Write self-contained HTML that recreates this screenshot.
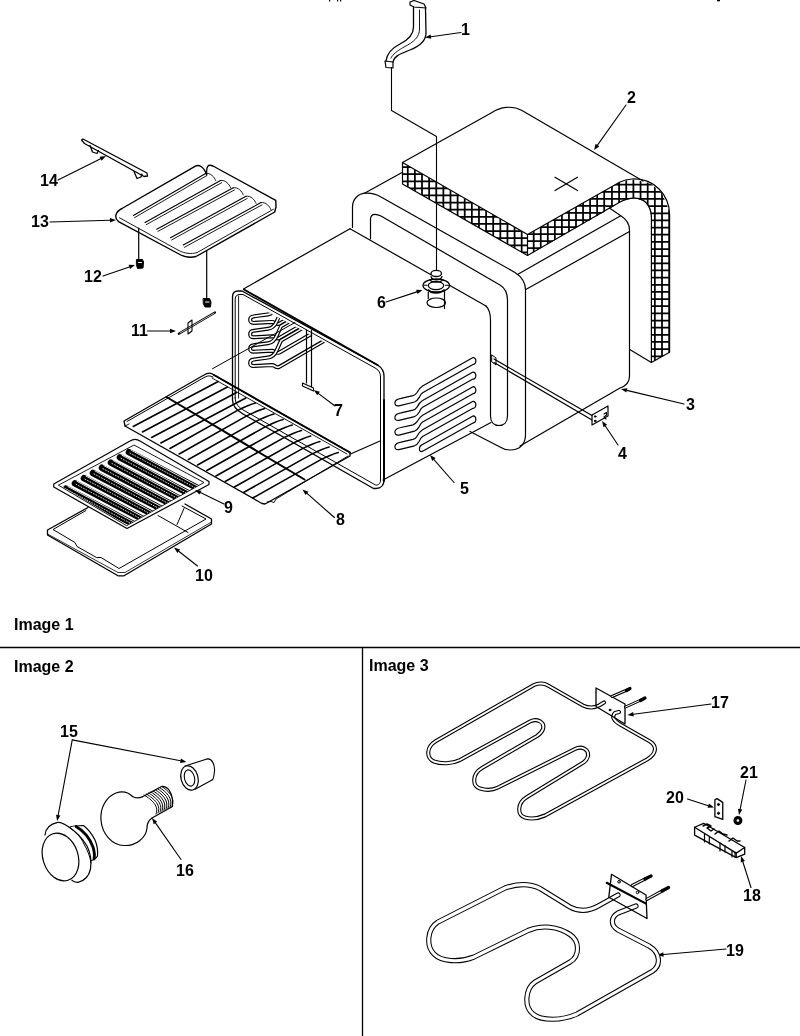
<!DOCTYPE html><html><head><meta charset="utf-8"><style>
html,body{margin:0;padding:0;background:#fff;}
body{width:800px;height:1036px;overflow:hidden;position:relative;}
svg{position:absolute;left:0;top:0;will-change:transform;}
text{font-family:"Liberation Sans",sans-serif;font-weight:bold;font-size:16px;fill:#000;}
</style></head><body>
<svg width="800" height="1036" viewBox="0 0 800 1036">
<g stroke="#000" fill="none" stroke-linecap="round" stroke-linejoin="round">

<line x1="0" y1="647.5" x2="800" y2="647.5" stroke-width="1.3"/>
<line x1="362.5" y1="647.5" x2="362.5" y2="1036" stroke-width="1.3"/>
<g stroke="none">
<text x="461" y="35">1</text>
<text x="627" y="102.5">2</text>
<text x="686" y="410">3</text>
<text x="618" y="459">4</text>
<text x="460" y="494">5</text>
<text x="377" y="307.5">6</text>
<text x="334" y="416">7</text>
<text x="336" y="525">8</text>
<text x="224" y="512.5">9</text>
<text x="195" y="581">10</text>
<text x="131" y="336">11</text>
<text x="84" y="282">12</text>
<text x="31" y="227">13</text>
<text x="40" y="185.5">14</text>
<text x="60" y="737">15</text>
<text x="176" y="876">16</text>
<text x="711" y="707.5">17</text>
<text x="743" y="901">18</text>
<text x="726" y="956">19</text>
<text x="666" y="802.5">20</text>
<text x="740" y="777.5">21</text>
<text x="14" y="630">Image 1</text><text x="14" y="672">Image 2</text><text x="369" y="670.5">Image 3</text>
</g>
<line x1="461" y1="32.5" x2="430.94" y2="36.67" stroke-width="1.1"/>
<path d="M425,37.5 L430.64,34.50 L431.25,38.85 Z" fill="#000" stroke="none"/>
<line x1="626" y1="105" x2="597.48" y2="145.11" stroke-width="1.1"/>
<path d="M594,150 L595.68,143.84 L599.27,146.39 Z" fill="#000" stroke="none"/>
<line x1="684" y1="404" x2="626.84" y2="390.39" stroke-width="1.1"/>
<path d="M621,389 L627.35,388.25 L626.33,392.53 Z" fill="#000" stroke="none"/>
<line x1="618" y1="445" x2="605.33" y2="425.99" stroke-width="1.1"/>
<path d="M602,421 L607.16,424.77 L603.50,427.21 Z" fill="#000" stroke="none"/>
<line x1="454" y1="482.5" x2="433.95" y2="459.52" stroke-width="1.1"/>
<path d="M430,455 L435.60,458.07 L432.29,460.97 Z" fill="#000" stroke="none"/>
<line x1="386" y1="302" x2="416.80" y2="291.87" stroke-width="1.1"/>
<path d="M422.5,290 L417.49,293.96 L416.11,289.78 Z" fill="#000" stroke="none"/>
<line x1="335" y1="406" x2="318.54" y2="393.61" stroke-width="1.1"/>
<path d="M313.75,390 L319.87,391.85 L317.22,395.37 Z" fill="#000" stroke="none"/>
<line x1="334.4" y1="517.5" x2="307.00" y2="493.37" stroke-width="1.1"/>
<path d="M302.5,489.4 L308.46,491.72 L305.55,495.02 Z" fill="#000" stroke="none"/>
<line x1="224" y1="504" x2="200.40" y2="492.61" stroke-width="1.1"/>
<path d="M195,490 L201.36,490.63 L199.45,494.59 Z" fill="#000" stroke="none"/>
<line x1="197.5" y1="566" x2="178.71" y2="551.21" stroke-width="1.1"/>
<path d="M174,547.5 L180.08,549.48 L177.35,552.94 Z" fill="#000" stroke="none"/>
<line x1="147.5" y1="331" x2="170.00" y2="331.00" stroke-width="1.1"/>
<path d="M176,331 L170.00,333.20 L170.00,328.80 Z" fill="#000" stroke="none"/>
<line x1="103" y1="276" x2="129.33" y2="266.95" stroke-width="1.1"/>
<path d="M135,265 L130.04,269.03 L128.61,264.87 Z" fill="#000" stroke="none"/>
<line x1="50" y1="222" x2="110.00" y2="220.18" stroke-width="1.1"/>
<path d="M116,220 L110.07,222.38 L109.94,217.98 Z" fill="#000" stroke="none"/>
<line x1="58" y1="180" x2="100.63" y2="158.68" stroke-width="1.1"/>
<path d="M106,156 L101.62,160.65 L99.65,156.72 Z" fill="#000" stroke="none"/>
<line x1="726" y1="949" x2="663.48" y2="954.48" stroke-width="1.1"/>
<path d="M657.5,955 L663.29,952.28 L663.67,956.67 Z" fill="#000" stroke="none"/>
<line x1="751" y1="887.5" x2="742.82" y2="861.72" stroke-width="1.1"/>
<path d="M741,856 L744.91,861.05 L740.72,862.38 Z" fill="#000" stroke="none"/>
<line x1="711" y1="704" x2="633.45" y2="714.22" stroke-width="1.1"/>
<path d="M627.5,715 L633.16,712.04 L633.74,716.40 Z" fill="#000" stroke="none"/>
<line x1="687.5" y1="799" x2="708.29" y2="805.67" stroke-width="1.1"/>
<path d="M714,807.5 L707.61,807.76 L708.96,803.57 Z" fill="#000" stroke="none"/>
<line x1="746" y1="780" x2="740.18" y2="809.12" stroke-width="1.1"/>
<path d="M739,815 L738.02,808.69 L742.33,809.55 Z" fill="#000" stroke="none"/>
<line x1="181" y1="859.5" x2="155.44" y2="822.92" stroke-width="1.1"/>
<path d="M152,818 L157.24,821.66 L153.63,824.18 Z" fill="#000" stroke="none"/>
<line x1="72.25" y1="739.9" x2="180.51" y2="760.76" stroke-width="1.1"/>
<path d="M186.4,761.9 L180.09,762.92 L180.92,758.60 Z" fill="#000" stroke="none"/>
<line x1="72.25" y1="739.9" x2="58.20" y2="815.10" stroke-width="1.1"/>
<path d="M57.1,821 L56.04,814.70 L60.36,815.51 Z" fill="#000" stroke="none"/>
<clipPath id="c71"><polygon points="402.5,162.5 527.5,234.5 527.5,255.5 402.5,184"/></clipPath>
<g clip-path="url(#c71)">
<line x1="393.53" y1="160.5" x2="393.53" y2="257.5" stroke-width="1.75"/>
<line x1="400.65" y1="160.5" x2="400.65" y2="257.5" stroke-width="1.75"/>
<line x1="407.77" y1="160.5" x2="407.77" y2="257.5" stroke-width="1.75"/>
<line x1="414.89" y1="160.5" x2="414.89" y2="257.5" stroke-width="1.75"/>
<line x1="422.01" y1="160.5" x2="422.01" y2="257.5" stroke-width="1.75"/>
<line x1="429.13" y1="160.5" x2="429.13" y2="257.5" stroke-width="1.75"/>
<line x1="436.25" y1="160.5" x2="436.25" y2="257.5" stroke-width="1.75"/>
<line x1="443.37" y1="160.5" x2="443.37" y2="257.5" stroke-width="1.75"/>
<line x1="450.49" y1="160.5" x2="450.49" y2="257.5" stroke-width="1.75"/>
<line x1="457.61" y1="160.5" x2="457.61" y2="257.5" stroke-width="1.75"/>
<line x1="464.73" y1="160.5" x2="464.73" y2="257.5" stroke-width="1.75"/>
<line x1="471.85" y1="160.5" x2="471.85" y2="257.5" stroke-width="1.75"/>
<line x1="478.97" y1="160.5" x2="478.97" y2="257.5" stroke-width="1.75"/>
<line x1="486.09" y1="160.5" x2="486.09" y2="257.5" stroke-width="1.75"/>
<line x1="493.21" y1="160.5" x2="493.21" y2="257.5" stroke-width="1.75"/>
<line x1="500.33" y1="160.5" x2="500.33" y2="257.5" stroke-width="1.75"/>
<line x1="507.45" y1="160.5" x2="507.45" y2="257.5" stroke-width="1.75"/>
<line x1="514.57" y1="160.5" x2="514.57" y2="257.5" stroke-width="1.75"/>
<line x1="521.69" y1="160.5" x2="521.69" y2="257.5" stroke-width="1.75"/>
<line x1="528.81" y1="160.5" x2="528.81" y2="257.5" stroke-width="1.75"/>
<line x1="400.5" y1="159.89" x2="529.5" y2="159.89" stroke-width="1.75"/>
<line x1="400.5" y1="167.01" x2="529.5" y2="167.01" stroke-width="1.75"/>
<line x1="400.5" y1="174.13" x2="529.5" y2="174.13" stroke-width="1.75"/>
<line x1="400.5" y1="181.25" x2="529.5" y2="181.25" stroke-width="1.75"/>
<line x1="400.5" y1="188.37" x2="529.5" y2="188.37" stroke-width="1.75"/>
<line x1="400.5" y1="195.49" x2="529.5" y2="195.49" stroke-width="1.75"/>
<line x1="400.5" y1="202.61" x2="529.5" y2="202.61" stroke-width="1.75"/>
<line x1="400.5" y1="209.73" x2="529.5" y2="209.73" stroke-width="1.75"/>
<line x1="400.5" y1="216.85" x2="529.5" y2="216.85" stroke-width="1.75"/>
<line x1="400.5" y1="223.97" x2="529.5" y2="223.97" stroke-width="1.75"/>
<line x1="400.5" y1="231.09" x2="529.5" y2="231.09" stroke-width="1.75"/>
<line x1="400.5" y1="238.21" x2="529.5" y2="238.21" stroke-width="1.75"/>
<line x1="400.5" y1="245.33" x2="529.5" y2="245.33" stroke-width="1.75"/>
<line x1="400.5" y1="252.45" x2="529.5" y2="252.45" stroke-width="1.75"/>
</g>
<clipPath id="c108"><polygon points="527.5,234.5 606,190 606,211 527.5,255.5"/></clipPath>
<g clip-path="url(#c108)">
<line x1="519.60" y1="188" x2="519.60" y2="257.5" stroke-width="1.75"/>
<line x1="526.65" y1="188" x2="526.65" y2="257.5" stroke-width="1.75"/>
<line x1="533.70" y1="188" x2="533.70" y2="257.5" stroke-width="1.75"/>
<line x1="540.75" y1="188" x2="540.75" y2="257.5" stroke-width="1.75"/>
<line x1="547.80" y1="188" x2="547.80" y2="257.5" stroke-width="1.75"/>
<line x1="554.85" y1="188" x2="554.85" y2="257.5" stroke-width="1.75"/>
<line x1="561.90" y1="188" x2="561.90" y2="257.5" stroke-width="1.75"/>
<line x1="568.95" y1="188" x2="568.95" y2="257.5" stroke-width="1.75"/>
<line x1="576.00" y1="188" x2="576.00" y2="257.5" stroke-width="1.75"/>
<line x1="583.05" y1="188" x2="583.05" y2="257.5" stroke-width="1.75"/>
<line x1="590.10" y1="188" x2="590.10" y2="257.5" stroke-width="1.75"/>
<line x1="597.15" y1="188" x2="597.15" y2="257.5" stroke-width="1.75"/>
<line x1="604.20" y1="188" x2="604.20" y2="257.5" stroke-width="1.75"/>
<line x1="525.5" y1="184.75" x2="608" y2="184.75" stroke-width="1.75"/>
<line x1="525.5" y1="191.80" x2="608" y2="191.80" stroke-width="1.75"/>
<line x1="525.5" y1="198.85" x2="608" y2="198.85" stroke-width="1.75"/>
<line x1="525.5" y1="205.90" x2="608" y2="205.90" stroke-width="1.75"/>
<line x1="525.5" y1="212.95" x2="608" y2="212.95" stroke-width="1.75"/>
<line x1="525.5" y1="220.00" x2="608" y2="220.00" stroke-width="1.75"/>
<line x1="525.5" y1="227.05" x2="608" y2="227.05" stroke-width="1.75"/>
<line x1="525.5" y1="234.10" x2="608" y2="234.10" stroke-width="1.75"/>
<line x1="525.5" y1="241.15" x2="608" y2="241.15" stroke-width="1.75"/>
<line x1="525.5" y1="248.20" x2="608" y2="248.20" stroke-width="1.75"/>
<line x1="525.5" y1="255.25" x2="608" y2="255.25" stroke-width="1.75"/>
</g>
<clipPath id="c135"><polygon points="606,190 622,181 633,179.5 650,183 662,193 669.6,212 669.6,352.3 651.4,362.4 651.4,217 649,207 644,201 634,198 622,201 606,211"/></clipPath>
<g clip-path="url(#c135)">
<line x1="597.65" y1="177.5" x2="597.65" y2="364.4" stroke-width="1.75"/>
<line x1="604.80" y1="177.5" x2="604.80" y2="364.4" stroke-width="1.75"/>
<line x1="611.95" y1="177.5" x2="611.95" y2="364.4" stroke-width="1.75"/>
<line x1="619.10" y1="177.5" x2="619.10" y2="364.4" stroke-width="1.75"/>
<line x1="626.25" y1="177.5" x2="626.25" y2="364.4" stroke-width="1.75"/>
<line x1="633.40" y1="177.5" x2="633.40" y2="364.4" stroke-width="1.75"/>
<line x1="640.55" y1="177.5" x2="640.55" y2="364.4" stroke-width="1.75"/>
<line x1="647.70" y1="177.5" x2="647.70" y2="364.4" stroke-width="1.75"/>
<line x1="654.85" y1="177.5" x2="654.85" y2="364.4" stroke-width="1.75"/>
<line x1="662.00" y1="177.5" x2="662.00" y2="364.4" stroke-width="1.75"/>
<line x1="669.15" y1="177.5" x2="669.15" y2="364.4" stroke-width="1.75"/>
<line x1="604" y1="177.50" x2="671.6" y2="177.50" stroke-width="1.75"/>
<line x1="604" y1="184.65" x2="671.6" y2="184.65" stroke-width="1.75"/>
<line x1="604" y1="191.80" x2="671.6" y2="191.80" stroke-width="1.75"/>
<line x1="604" y1="198.95" x2="671.6" y2="198.95" stroke-width="1.75"/>
<line x1="604" y1="206.10" x2="671.6" y2="206.10" stroke-width="1.75"/>
<line x1="604" y1="213.25" x2="671.6" y2="213.25" stroke-width="1.75"/>
<line x1="604" y1="220.40" x2="671.6" y2="220.40" stroke-width="1.75"/>
<line x1="604" y1="227.55" x2="671.6" y2="227.55" stroke-width="1.75"/>
<line x1="604" y1="234.70" x2="671.6" y2="234.70" stroke-width="1.75"/>
<line x1="604" y1="241.85" x2="671.6" y2="241.85" stroke-width="1.75"/>
<line x1="604" y1="249.00" x2="671.6" y2="249.00" stroke-width="1.75"/>
<line x1="604" y1="256.15" x2="671.6" y2="256.15" stroke-width="1.75"/>
<line x1="604" y1="263.30" x2="671.6" y2="263.30" stroke-width="1.75"/>
<line x1="604" y1="270.45" x2="671.6" y2="270.45" stroke-width="1.75"/>
<line x1="604" y1="277.60" x2="671.6" y2="277.60" stroke-width="1.75"/>
<line x1="604" y1="284.75" x2="671.6" y2="284.75" stroke-width="1.75"/>
<line x1="604" y1="291.90" x2="671.6" y2="291.90" stroke-width="1.75"/>
<line x1="604" y1="299.05" x2="671.6" y2="299.05" stroke-width="1.75"/>
<line x1="604" y1="306.20" x2="671.6" y2="306.20" stroke-width="1.75"/>
<line x1="604" y1="313.35" x2="671.6" y2="313.35" stroke-width="1.75"/>
<line x1="604" y1="320.50" x2="671.6" y2="320.50" stroke-width="1.75"/>
<line x1="604" y1="327.65" x2="671.6" y2="327.65" stroke-width="1.75"/>
<line x1="604" y1="334.80" x2="671.6" y2="334.80" stroke-width="1.75"/>
<line x1="604" y1="341.95" x2="671.6" y2="341.95" stroke-width="1.75"/>
<line x1="604" y1="349.10" x2="671.6" y2="349.10" stroke-width="1.75"/>
<line x1="604" y1="356.25" x2="671.6" y2="356.25" stroke-width="1.75"/>
<line x1="604" y1="363.40" x2="671.6" y2="363.40" stroke-width="1.75"/>
</g>
<path d="M402.5,162.5 L492,112.5 C500,107 512,105 522,110.5 L643,181" stroke-width="1.2" fill="none"/>
<path d="M402.5,162.5 L402.5,184 L527.5,255.5 L620,202 C630,196.5 640,197 646,202.5 C650,207 651.4,211 651.4,217 L651.4,362.4 L669.6,352.3 L669.6,215 C669.6,205 666,196 659,189 C651,181 641,178.5 632,179 C627,179.3 624,180 620,182 L527.5,234.5 L402.5,162.5" stroke-width="1.2" fill="none"/>
<path d="M527.5,234.5 L527.5,255.5" stroke-width="1.2" fill="none"/>
<path d="M629.7,349.6 L651.4,362.4" stroke-width="1.2" fill="none"/>
<line x1="555" y1="177.2" x2="577.5" y2="190.6" stroke-width="1.2"/>
<line x1="555" y1="190.6" x2="577.5" y2="177.2" stroke-width="1.2"/>
<path d="M413.5,7 L413.5,27 C413.5,35 408,40 400,44 C392,48 387,53 386,61 M425.5,8 L426,33 C426,41 420,46 410,50 C400,54 394,56 393,62" stroke-width="1.3" fill="none"/>
<path d="M419.5,10 L419.5,29 C419.5,37 414,42 404,47 C397,51 393,54 391,58" stroke-width="0.9" fill="none"/>
<path d="M410,2 L414,0.5 L424,4 L426,8 L414,7 L410,5 Z" stroke-width="1.2" fill="none"/>
<path d="M385,61 L393,62 L393,68 L386,67.5 Z" stroke-width="1.2" fill="none"/>
<path d="M391.5,67.5 L391.5,110.5 L436.5,136.5 L436.5,270" stroke-width="1.1" fill="none"/>
<line x1="364.5" y1="193.3" x2="402.5" y2="172.3" stroke-width="1.2"/>
<path d="M352.5,227.5 L352.5,207 C352.5,199 358,193.5 366,193.2 C371,193 376,194 381,197 L515,272.5 C522,277 525.5,282 525.5,290 L525.5,435 C525.5,444 520,450 510,450 C506,450 503,449 500,447 L470,431.5" stroke-width="1.2" fill="none"/>
<path d="M370.5,239 L370.5,219.5 C370.5,216 372,214.3 375,214.3 C377,214.3 379,215 381,216 L500,285 C505,288 507.5,293 507.5,300 L507.5,416 C507.5,422 504,425.5 499,425.5 C494,425.5 490.5,422 490.5,416 L490.5,320 C490.5,314 490,310 486,306" stroke-width="1.2" fill="none"/>
<path d="M517.5,274.4 L620.75,215.75" stroke-width="1.2" fill="none"/>
<path d="M609.4,207.9 L620.75,215.75 C626,219 629.5,223 629.5,230 L629.5,376 C629.5,382 626,386 620,388 L520,446" stroke-width="1.2" fill="none"/>
<line x1="526.25" y1="289.25" x2="629.5" y2="231.5" stroke-width="1.2"/>
<line x1="243.5" y1="289" x2="350" y2="228.75" stroke-width="1.2"/>
<path d="M350,228.75 L486,306" stroke-width="1.2" fill="none"/>
<path d="M232.5,400 L232.5,297 C232.5,293 235,291 238,291 L242,291 L377.5,365 C381.5,367.5 384,371 384,376 L384,480 C384,485 381,488.5 376,488.5 L373.5,488.5 L243,414 C236,410 232.5,406 232.5,400 Z" stroke-width="1.3" fill="none"/>
<path d="M235.2,398 L235.2,299 C235.2,296 237,294.5 240,294.5 L243,294.5 L376,368.5 C379,370.5 380.5,373 380.5,377 L380.5,480 C380.5,483.5 378.5,485.5 375.5,485 L245,411 C239,408 235.2,404 235.2,398 Z" stroke-width="1.0" fill="none"/>
<path d="M244,289.5 L377.5,365" stroke-width="2.0" fill="none"/>
<path d="M238.6,296 L238.6,398" stroke-width="0.9" fill="none"/>
<path d="M384,400 L384,481" stroke-width="2.0" fill="none"/>
<line x1="383" y1="480" x2="491" y2="422.5" stroke-width="1.2"/>
<line x1="350.5" y1="454" x2="380" y2="441" stroke-width="1.2"/>
<path d="M473,357.50 C476.8,357.30 476.8,364.70 473,364.50 L422.6,392.75 C421,393.80 420,395.80 419.25,397.40 C418,399.60 416.5,401.40 414.5,402.00 L400,405.60 C396,406.60 394.4,405.00 395,402.00 C395.5,400.00 397,399.00 401,398.30 L413,395.60 C415,395.10 416,394.00 417,392.50 C419,389.00 420,387.50 422.6,386.00 Z" stroke-width="1.2" fill="none"/>
<path d="M473,372.10 C476.8,371.90 476.8,379.30 473,379.10 L422.6,407.35 C421,408.40 420,410.40 419.25,412.00 C418,414.20 416.5,416.00 414.5,416.60 L400,420.20 C396,421.20 394.4,419.60 395,416.60 C395.5,414.60 397,413.60 401,412.90 L413,410.20 C415,409.70 416,408.60 417,407.10 C419,403.60 420,402.10 422.6,400.60 Z" stroke-width="1.2" fill="none"/>
<path d="M473,386.70 C476.8,386.50 476.8,393.90 473,393.70 L422.6,421.95 C421,423.00 420,425.00 419.25,426.60 C418,428.80 416.5,430.60 414.5,431.20 L400,434.80 C396,435.80 394.4,434.20 395,431.20 C395.5,429.20 397,428.20 401,427.50 L413,424.80 C415,424.30 416,423.20 417,421.70 C419,418.20 420,416.70 422.6,415.20 Z" stroke-width="1.2" fill="none"/>
<path d="M473,401.30 C476.8,401.10 476.8,408.50 473,408.30 L422.6,436.55 C421,437.60 420,439.60 419.25,441.20 C418,443.40 416.5,445.20 414.5,445.80 L400,449.40 C396,450.40 394.4,448.80 395,445.80 C395.5,443.80 397,442.80 401,442.10 L413,439.40 C415,438.90 416,437.80 417,436.30 C419,432.80 420,431.30 422.6,429.80 Z" stroke-width="1.2" fill="none"/>
<path d="M473,415.90 C476.8,415.70 476.8,423.10 473,422.90 L422.6,451.15 C418.6,453.20 418.2,446.20 422.6,444.40 Z" stroke-width="1.2" fill="none"/>
<clipPath id="supclip"><polygon points="238,296 380,372 380,470 238,470"/></clipPath>
<g clip-path="url(#supclip)">
<path d="M340,263.4 L281,297.4 L276.5,307.4 C274.5,311.9 272,313.9 268,314.4 L253.5,316.4 C249,316.9 249,322.9 253.5,322.9 L272,321.9 C275,321.9 275.5,324.9 279,323.9 L335,291.4" stroke="#000" stroke-width="4.0" fill="none"/>
<path d="M340,263.4 L281,297.4 L276.5,307.4 C274.5,311.9 272,313.9 268,314.4 L253.5,316.4 C249,316.9 249,322.9 253.5,322.9 L272,321.9 C275,321.9 275.5,324.9 279,323.9 L335,291.4" stroke="#fff" stroke-width="1.6" fill="none"/>
<path d="M340,277.8 L281,311.8 L276.5,321.8 C274.5,326.3 272,328.3 268,328.8 L253.5,330.8 C249,331.3 249,337.3 253.5,337.3 L272,336.3 C275,336.3 275.5,339.3 279,338.3 L335,305.8" stroke="#000" stroke-width="4.0" fill="none"/>
<path d="M340,277.8 L281,311.8 L276.5,321.8 C274.5,326.3 272,328.3 268,328.8 L253.5,330.8 C249,331.3 249,337.3 253.5,337.3 L272,336.3 C275,336.3 275.5,339.3 279,338.3 L335,305.8" stroke="#fff" stroke-width="1.6" fill="none"/>
<path d="M340,292.2 L281,326.2 L276.5,336.2 C274.5,340.7 272,342.7 268,343.2 L253.5,345.2 C249,345.7 249,351.7 253.5,351.7 L272,350.7 C275,350.7 275.5,353.7 279,352.7 L335,320.2" stroke="#000" stroke-width="4.0" fill="none"/>
<path d="M340,292.2 L281,326.2 L276.5,336.2 C274.5,340.7 272,342.7 268,343.2 L253.5,345.2 C249,345.7 249,351.7 253.5,351.7 L272,350.7 C275,350.7 275.5,353.7 279,352.7 L335,320.2" stroke="#fff" stroke-width="1.6" fill="none"/>
<path d="M340,306.6 L281,340.6 L276.5,350.6 C274.5,355.1 272,357.1 268,357.6 L253.5,359.6 C249,360.1 249,366.1 253.5,366.1 L272,365.1 C275,365.1 275.5,368.1 279,367.1 L335,334.6" stroke="#000" stroke-width="4.0" fill="none"/>
<path d="M340,306.6 L281,340.6 L276.5,350.6 C274.5,355.1 272,357.1 268,357.6 L253.5,359.6 C249,360.1 249,366.1 253.5,366.1 L272,365.1 C275,365.1 275.5,368.1 279,367.1 L335,334.6" stroke="#fff" stroke-width="1.6" fill="none"/>
</g>
<line x1="212.5" y1="368.75" x2="295" y2="322.5" stroke-width="1.0"/>
<line x1="494" y1="359" x2="592" y2="415.5" stroke-width="1.2"/>
<line x1="494" y1="362.5" x2="592" y2="420" stroke-width="1.2"/>
<path d="M592,415 L608,406 L608,416 L592,425 Z" stroke-width="1.2" fill="none"/>
<circle cx="595.2" cy="416.5" r="0.8" fill="#000"/><circle cx="595.2" cy="421" r="0.8" fill="#000"/>
<path d="M604,414 L606.5,412.5 L606.5,415 L604,417 L606,419" stroke-width="1.1" fill="none"/>
<path d="M492,355 L496,358 L496,365 L492,362 Z" stroke-width="1.0" fill="none"/>
<path d="M423,285.5 C423,280 430,278 431,276 L431,273 C431,270 441.5,270 441.5,273 L441.5,276 C443,278 449.5,280 449.5,285.5 C449.5,289 446,291 444.5,291.5 L444.5,308 L428.2,300 L428.2,291.5 C425,290 423,288 423,285.5 Z" fill="#fff" stroke="none"/>
<ellipse cx="436.25" cy="285.5" rx="13.25" ry="6.5" stroke-width="1.3"/>
<ellipse cx="436" cy="285.6" rx="7.75" ry="4" stroke-width="1.2"/>
<ellipse cx="436.25" cy="273.4" rx="5.25" ry="3.1" fill="#fff" stroke-width="1.3"/>
<path d="M431,276.5 C432,281 440.5,281 442,276.5 M430,279.5 C431,283 441,283 443,279.5" stroke-width="1.2" fill="none"/>
<path d="M424,285.25 L427,285.25 M445.5,285.25 L448.5,285.25" stroke-width="1.1" fill="none"/>
<path d="M428.5,290 C431,293.8 441,293.8 444,290" stroke-width="1.6" fill="none"/>
<path d="M428.25,292 L428.25,298.5 M444.5,291 L444.5,308.5" stroke-width="1.2" fill="none"/>
<ellipse cx="436.25" cy="302.75" rx="9.25" ry="4.75" stroke-width="1.2"/>
<line x1="306.5" y1="330" x2="306.5" y2="383" stroke-width="1.2"/>
<line x1="311.5" y1="330" x2="311.5" y2="386.5" stroke-width="1.2"/>
<path d="M302.5,383 L313.5,388 L313.5,391 L302.5,386 Z" stroke-width="1.1" fill="none"/>
<path d="M124,421 L204,375 C207,373 211,372.5 214,375 L350,452.5 L350,456.0 L265,504.0 L262,503.5 L125,426 Z" stroke-width="1.3" fill="none"/>
<path d="M127,421.5 L205,377 C208,375.5 210,375.5 213,377" stroke-width="1.0" fill="none"/>
<path d="M214,375 L350,452.5" stroke-width="2.0" fill="none"/>
<path d="M212,378 L347,454.0" stroke-width="0.9" fill="none"/>
<path d="M348,456.0 L276,499.0 L274,502.5 L271,501.5 L267,502.0" stroke-width="0.9" fill="none"/>
<path d="M125,426 L129,424" stroke-width="0.9" fill="none"/>
<path d="M133.20,426.50 L218.20,381.50" stroke-width="1.6"/>
<path d="M142.40,432.00 L227.40,387.00" stroke-width="1.6"/>
<path d="M151.60,437.50 L236.60,392.50" stroke-width="1.6"/>
<path d="M160.80,443.00 L245.80,398.00" stroke-width="1.6"/>
<path d="M170.00,448.50 L238.00,410.10 Q248.70,404.84 255.50,403.00" stroke-width="1.6"/>
<path d="M179.20,454.00 L247.20,415.60 Q257.90,410.34 264.70,408.50" stroke-width="1.6"/>
<path d="M188.40,459.50 L256.40,421.10 Q267.10,415.84 273.90,414.00" stroke-width="1.6"/>
<path d="M197.60,465.00 L265.60,426.60 Q276.30,421.34 283.10,419.50" stroke-width="1.6"/>
<path d="M206.80,470.50 L274.80,432.10 Q285.50,426.84 292.30,425.00" stroke-width="1.6"/>
<path d="M216.00,476.00 L284.00,437.60 Q294.70,432.34 301.50,430.50" stroke-width="1.6"/>
<path d="M225.20,481.50 L293.20,443.10 Q303.90,437.84 310.70,436.00" stroke-width="1.6"/>
<path d="M234.40,487.00 L302.40,448.60 Q313.10,443.34 319.90,441.50" stroke-width="1.6"/>
<path d="M243.60,492.50 L311.60,454.10 Q322.30,448.84 329.10,447.00" stroke-width="1.6"/>
<path d="M252.80,498.00 L320.80,459.60 Q331.50,454.34 338.30,452.50" stroke-width="1.6"/>
<line x1="166.5" y1="397.0" x2="304.5" y2="479.5" stroke-width="2.0"/>
<path d="M53.75,484 L130,441 C134,438.5 137,439 140,441 L209,481.5 L209,484.5 L127,528.5 L53.75,487 Z" stroke-width="1.2" fill="none"/>
<path d="M58.75,485 L134,445 L204,482.5 L127,525.5 Z" stroke-width="0.9" fill="none"/>
<clipPath id="gridclip"><polygon points="58,484 134,443.5 205,482 127,525"/></clipPath>
<g clip-path="url(#gridclip)">
<line x1="66.0" y1="488.6" x2="146.0" y2="530.6" stroke-width="6.6"/>
<line x1="68.00" y1="486.50" x2="146.00" y2="528.50" stroke="#fff" stroke-width="0.9"/>
<line x1="67.00" y1="489.50" x2="146.00" y2="531.50" stroke="#fff" stroke-width="0.8" stroke-dasharray="1 1.8"/>
<line x1="75.0" y1="483.4" x2="155.0" y2="525.4" stroke-width="6.6"/>
<line x1="77.00" y1="481.30" x2="155.00" y2="523.30" stroke="#fff" stroke-width="0.9"/>
<line x1="76.00" y1="484.30" x2="155.00" y2="526.30" stroke="#fff" stroke-width="0.8" stroke-dasharray="1 1.8"/>
<line x1="84.0" y1="478.2" x2="164.0" y2="520.2" stroke-width="6.6"/>
<line x1="86.00" y1="476.10" x2="164.00" y2="518.10" stroke="#fff" stroke-width="0.9"/>
<line x1="85.00" y1="479.10" x2="164.00" y2="521.10" stroke="#fff" stroke-width="0.8" stroke-dasharray="1 1.8"/>
<line x1="93.0" y1="473.0" x2="173.0" y2="515.0" stroke-width="6.6"/>
<line x1="95.00" y1="470.90" x2="173.00" y2="512.90" stroke="#fff" stroke-width="0.9"/>
<line x1="94.00" y1="473.90" x2="173.00" y2="515.90" stroke="#fff" stroke-width="0.8" stroke-dasharray="1 1.8"/>
<line x1="102.0" y1="467.8" x2="182.0" y2="509.8" stroke-width="6.6"/>
<line x1="104.00" y1="465.70" x2="182.00" y2="507.70" stroke="#fff" stroke-width="0.9"/>
<line x1="103.00" y1="468.70" x2="182.00" y2="510.70" stroke="#fff" stroke-width="0.8" stroke-dasharray="1 1.8"/>
<line x1="111.0" y1="462.6" x2="191.0" y2="504.6" stroke-width="6.6"/>
<line x1="113.00" y1="460.50" x2="191.00" y2="502.50" stroke="#fff" stroke-width="0.9"/>
<line x1="112.00" y1="463.50" x2="191.00" y2="505.50" stroke="#fff" stroke-width="0.8" stroke-dasharray="1 1.8"/>
<line x1="120.0" y1="457.4" x2="200.0" y2="499.4" stroke-width="6.6"/>
<line x1="122.00" y1="455.30" x2="200.00" y2="497.30" stroke="#fff" stroke-width="0.9"/>
<line x1="121.00" y1="458.30" x2="200.00" y2="500.30" stroke="#fff" stroke-width="0.8" stroke-dasharray="1 1.8"/>
<line x1="129.0" y1="452.2" x2="209.0" y2="494.2" stroke-width="6.6"/>
<line x1="131.00" y1="450.10" x2="209.00" y2="492.10" stroke="#fff" stroke-width="0.9"/>
<line x1="130.00" y1="453.10" x2="209.00" y2="495.10" stroke="#fff" stroke-width="0.8" stroke-dasharray="1 1.8"/>
</g>
<path d="M88,507.5 L47.5,530 L47.5,535 L118,575.8 L124,575.8 L211.5,524 L211.5,519 L185,504" stroke-width="1.3" fill="none"/>
<path d="M86,510.5 L53,529.5 L75,542.5 L77,546.5 L96.5,557.5 L101,557.5 L119,568.5 L206,519 L182,506" stroke-width="1.0" fill="none"/>
<path d="M47.5,534 L118,572.5 L125,572.5 L211.5,522" stroke-width="0.8" fill="none"/>
<path d="M158,515.5 L188,532.5 M177,524.5 L184,508.5" stroke-width="1.0" fill="none"/>
<line x1="178.75" y1="333.75" x2="215" y2="312.5" stroke-width="2.2"/>
<line x1="180" y1="333" x2="214" y2="313.2" stroke="#fff" stroke-width="0.7"/>
<path d="M188,323 L192,320 L192,331 L188,334 Z" stroke-width="1.1" fill="none"/>
<path d="M195,166.4 L122,208.5 C115,212 114,218 118.5,221.6 L178,253.5 C184,257 191,258 196,256.5 L274.7,212 L276,207 L275.75,200.4 L213,166 C208,164 206,166 206.7,174.9 C204,167 199,164 195,166.4" stroke-width="1.4" fill="none"/>
<path d="M119.5,217.8 L179,250.6 C185,253.6 191,254.2 197,252.6 L273.5,209.2" stroke-width="0.9" fill="none"/>
<line x1="133.4" y1="215.4" x2="205.6" y2="173.4" stroke-width="1.1"/>
<line x1="134.6" y1="217.6" x2="206.79999999999998" y2="175.6" stroke-width="0.9"/>
<path d="M205.6,173.4 C210.6,172.4 214.6,177.4 215.6,180.4" stroke-width="0.9" fill="none"/>
<line x1="145" y1="222.5" x2="220.5" y2="180.5" stroke-width="1.1"/>
<line x1="146.2" y1="224.7" x2="221.7" y2="182.7" stroke-width="0.9"/>
<path d="M220.5,180.5 C225.5,179.5 229.5,184.5 230.5,187.5" stroke-width="0.9" fill="none"/>
<line x1="156.7" y1="229.2" x2="233.25" y2="187.75" stroke-width="1.1"/>
<line x1="157.89999999999998" y1="231.39999999999998" x2="234.45" y2="189.95" stroke-width="0.9"/>
<path d="M233.25,187.75 C238.25,186.75 242.25,191.75 243.25,194.75" stroke-width="0.9" fill="none"/>
<line x1="170.5" y1="237.7" x2="246" y2="196.25" stroke-width="1.1"/>
<line x1="171.7" y1="239.89999999999998" x2="247.2" y2="198.45" stroke-width="0.9"/>
<path d="M246,196.25 C251,195.25 255,200.25 256,203.25" stroke-width="0.9" fill="none"/>
<line x1="183.25" y1="245.1" x2="260.9" y2="202.6" stroke-width="1.1"/>
<line x1="184.45" y1="247.29999999999998" x2="262.09999999999997" y2="204.79999999999998" stroke-width="0.9"/>
<path d="M260.9,202.6 C265.9,201.6 269.9,206.6 270.9,209.6" stroke-width="0.9" fill="none"/>
<line x1="138.7" y1="228" x2="138.7" y2="262" stroke-width="1.2"/>
<line x1="206.7" y1="251.4" x2="206.7" y2="298" stroke-width="1.2"/>
<path d="M136.8,259.5 L142.5,259.5 L143.5,262 L143,268 L137.5,268.5 L136.5,265 Z" fill="#000" stroke-width="1"/><path d="M138.5,262.5 L141.5,262.5" stroke="#fff" stroke-width="1"/>
<path d="M203.5,298.5 L209.5,298.5 L211,302 L210.5,307 L205,307 L203.5,304 Z" fill="#000" stroke-width="1"/><path d="M205.5,302 L209,302" stroke="#fff" stroke-width="1"/>
<path d="M81.5,140 L83,139 L147,173 L147.5,176 L144,176.5 L84.5,143.5 Z" stroke-width="1.3" fill="none"/>
<path d="M90,145.5 L92.5,152 L97,153.5 L98.5,150.5 M134,171.5 L137,178.5 L141,177 L142,174" stroke-width="1.3" fill="none"/>
<path d="M185,766 L207,759 M194.6,789.4 L212.5,779.75" stroke-width="1.1" fill="none"/>
<path d="M207,759 C212,758 215,765 214.5,771 C214,776 213.5,779 212.5,779.75" stroke-width="1.1" fill="none"/>
<ellipse cx="189.5" cy="778" rx="8.5" ry="12.4" transform="rotate(-15 189.5 778)" fill="#fff" stroke-width="1.2"/>
<ellipse cx="189.5" cy="778" rx="5" ry="8.3" transform="rotate(-15 189.5 778)" stroke-width="1.1"/>
<path d="M45,835 C45.5,829 50,824 57.75,822.4 C62,822 66,825 69.1,827.25 C75,831 82,838 87,846 C90.5,853 91.5,862 90.5,869 C89,876 84,881 77.9,882.4 C75,882.5 73,881.5 71.75,880.2" stroke-width="1.2" fill="none"/>
<path d="M69.1,827.25 C75,831 81,837 84,844 C88,851 90.5,858 91,863" stroke-width="1.0" fill="none"/>
<path d="M70,827 C73,825.5 77,825.5 83.5,825.5 C88,829 92,834 95,840 C97.5,846 98,851 97.5,856 C96,858.5 94,860 91,860.5" stroke-width="1.2" fill="none"/>
<path d="M76,826.5 C84,831 90,839 93,847 C94.5,852 95,855 94,859" stroke-width="2.8" fill="none"/>
<ellipse cx="60.5" cy="857" rx="17.6" ry="24.4" transform="rotate(-18 60.5 857)" fill="#fff" stroke-width="1.2"/>
<path d="M132.5,796.5 C128,792 122,791 116,793 C106,797 100,808 101,820 C102,834 112,845 124,845.5 C136,846 146,838 147,828 C147,823 149,820 152,818" stroke-width="1.2" fill="none"/>
<path d="M132.5,796.5 C135,798 139,798 142,797" stroke-width="1.2" fill="none"/>
<path d="M142,797 L161.5,786.5 M152,818 L172.5,806.5" stroke-width="1.2" fill="none"/>
<path d="M144.0,795.0 C149.0,798.0 160.0,805.0 156.0,814.0" stroke-width="1.0" fill="none"/>
<path d="M146.3,794.0 C151.3,797.0 162.0,804.0 158.0,813.0" stroke-width="1.0" fill="none"/>
<path d="M148.6,793.0 C153.6,796.0 164.0,803.1 160.0,812.1" stroke-width="1.0" fill="none"/>
<path d="M150.9,792.0 C155.9,795.0 166.0,802.1 162.0,811.1" stroke-width="1.0" fill="none"/>
<path d="M153.2,791.0 C158.2,794.0 168.0,801.2 164.0,810.2" stroke-width="1.0" fill="none"/>
<path d="M155.5,790.0 C160.5,793.0 170.0,800.2 166.0,809.2" stroke-width="1.0" fill="none"/>
<path d="M157.8,789.0 C162.8,792.0 172.0,799.3 168.0,808.3" stroke-width="1.0" fill="none"/>
<path d="M160.1,788.0 C165.1,791.0 174.0,798.4 170.0,807.4" stroke-width="1.0" fill="none"/>
<path d="M162.4,787.0 C167.4,790.0 176.0,797.4 172.0,806.4" stroke-width="1.0" fill="none"/>
<path d="M161.5,786.5 C168,786 172,793 172.5,800 L172.5,806.5" stroke-width="1.2" fill="none"/>
<path d="M604,702.5 L599,705.5 C594,708 588,708 583,705.5 L548,685.5 C544,683 538,683 534,685 L436,741 C426,747 426,758 434,761.5 C441,764 452,764 460,760 L530,721.5 C537,718 545,722 543,729 C542,732 540,734 537,736 L482,768 C472,774 472,786 480,788.5 C486,790.5 492,790.5 498,787.5 L575,749 C582,745.5 589,749.5 588,756 C587,760 585,762 581,764 L527,797 C517,803 517,815 525,817.5 C532,819.5 538,818.5 545,815.5 L647,759.5 C657,753.5 657,746 650,741.5 L621,725 C614,721 611,717 615,713 L619,712" stroke="#000" stroke-width="4.1" fill="none"/>
<path d="M604,702.5 L599,705.5 C594,708 588,708 583,705.5 L548,685.5 C544,683 538,683 534,685 L436,741 C426,747 426,758 434,761.5 C441,764 452,764 460,760 L530,721.5 C537,718 545,722 543,729 C542,732 540,734 537,736 L482,768 C472,774 472,786 480,788.5 C486,790.5 492,790.5 498,787.5 L575,749 C582,745.5 589,749.5 588,756 C587,760 585,762 581,764 L527,797 C517,803 517,815 525,817.5 C532,819.5 538,818.5 545,815.5 L647,759.5 C657,753.5 657,746 650,741.5 L621,725 C614,721 611,717 615,713 L619,712" stroke="#fff" stroke-width="1.9" fill="none"/>
<path d="M596,688 L625,704 L625,724 L596,706.5 Z" stroke-width="1.3" fill="none"/>
<circle cx="610" cy="710" r="0.9" fill="#000"/>
<path d="M612,696.5 L627,690" stroke="#000" stroke-width="3.0" fill="none"/>
<path d="M612,696.5 L627,690" stroke="#fff" stroke-width="1.0" fill="none"/>
<path d="M625.5,707 L641,700" stroke="#000" stroke-width="3.0" fill="none"/>
<path d="M625.5,707 L641,700" stroke="#fff" stroke-width="1.0" fill="none"/>
<path d="M626.5,690.5 L630,688.5 M640.5,700.5 L645,698" stroke-width="3.2" fill="none"/>
<path d="M618,895 L600,905 C590,911 580,912.5 570,907 L540,888.5 C530,883.5 518,883.5 505,888 L438,922 C427,929 426,946 434,954 C441,961.5 459,963 474,957 L528,930.5 C542,924.5 558,926.5 570,934.5 C580,941 580,956 570,962 L535,982 C525,989 524,1007 533,1014 C541,1021 562,1021 577,1014 L652,971.5 C661,966 661,953 649,946 L618,930 C610,925 611,917 618,913 L636,906" stroke="#000" stroke-width="5.2" fill="none"/>
<path d="M618,895 L600,905 C590,911 580,912.5 570,907 L540,888.5 C530,883.5 518,883.5 505,888 L438,922 C427,929 426,946 434,954 C441,961.5 459,963 474,957 L528,930.5 C542,924.5 558,926.5 570,934.5 C580,941 580,956 570,962 L535,982 C525,989 524,1007 533,1014 C541,1021 562,1021 577,1014 L652,971.5 C661,966 661,953 649,946 L618,930 C610,925 611,917 618,913 L636,906" stroke="#fff" stroke-width="3.1" fill="none"/>
<path d="M611.5,874.3 L646,895 L647,918.5 L608.8,897.2 Z" stroke-width="1.3" fill="none"/>
<line x1="606.7" y1="882.8" x2="646" y2="903.6" stroke-width="2.2"/>
<path d="M632.2,885.5 L646,878.5" stroke="#000" stroke-width="3.2" fill="none"/>
<path d="M632.2,885.5 L646,878.5" stroke="#fff" stroke-width="1.1" fill="none"/>
<path d="M647,899.3 L663,890.5" stroke="#000" stroke-width="3.2" fill="none"/>
<path d="M647,899.3 L663,890.5" stroke="#fff" stroke-width="1.1" fill="none"/>
<path d="M645,879 L651,876 M662,891 L668.5,887.5" stroke-width="3.4" fill="none"/>
<circle cx="619" cy="881.8" r="1.3" stroke-width="1"/><circle cx="637.5" cy="892.4" r="1.3" stroke-width="1"/>
<path d="M694.6,827.25 L703.6,823.3 L744.7,847.5 L736.2,853.1 Z" stroke-width="1.3" fill="none"/>
<path d="M694.6,827.25 L694.6,835.1 L736.2,857.6 L744.7,854.2 L744.7,847.5 M736.2,853.1 L736.2,857.6" stroke-width="1.3" fill="none"/>
<path d="M704.5,834 L704.5,842 M709.3,837.4 L709.3,844 M720,843 L720,851 M725,845.5 L725,852 M732,851 L732,857 M735,852 L735,857" stroke-width="1.2" fill="none"/>
<path d="M703,826 L707,824 L711,826 L707,828 L711,831 L714,829 M715,834 L719,831 L723,834 L727,835 M729,841 L733,838 L737,841 L740,841" stroke-width="1.4" fill="none"/>
<path d="M714.9,799.8 L717,798.6 L722.75,802.4 L722.75,819.4 L714.9,816.6 Z" stroke-width="1.3" fill="none"/>
<circle cx="718.5" cy="804.5" r="1.1" fill="#000"/><circle cx="718.5" cy="813.3" r="1.1" fill="#000"/>
<circle cx="737.9" cy="820.5" r="3.8" fill="#000" stroke-width="1.4"/><circle cx="737.9" cy="820.5" r="1.3" fill="#fff" stroke="none"/>
<g stroke="none" fill="#000"><rect x="329" y="0" width="1.2" height="1.5"/><rect x="337" y="0" width="1.2" height="1.5"/><rect x="340" y="0" width="1.2" height="1.5"/><rect x="717" y="0" width="3" height="1.3"/></g>
</g></svg></body></html>
